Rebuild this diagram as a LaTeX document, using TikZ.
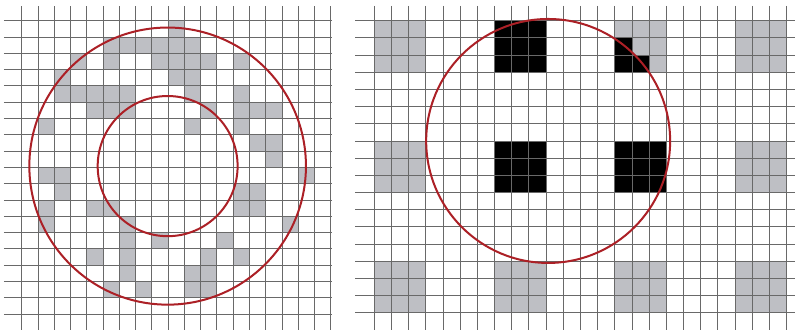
\documentclass[tikz,border=0pt]{standalone}
\usepackage{tikz}
\definecolor{gridline}{RGB}{105,105,105}
\definecolor{cellgray}{RGB}{190,191,196}
\definecolor{ringred}{RGB}{172,32,38}
\tikzset{
    gridlines/.style={draw=gridline, line width=0.9pt},
    graycell/.style={fill=cellgray},
    blackcell/.style={fill=black},
    ring/.style={draw=ringred, line width=2pt}
}

\begin{document}
\begin{tikzpicture}[x=1pt, y=-1pt]
            \useasboundingbox (0,0) rectangle (796,330);
            \fill[white] (0,0) rectangle (796,330);
            \begin{scope}[shift={(21.7,20.7)}, x=16.27pt, y=-16.3pt]
                \foreach \i/\j in {9/0, 5/1, 6/1, 7/1, 8/1, 9/1, 10/1, 3/2, 5/2, 8/2, 9/2, 10/2, 11/2, 13/2,
                    2/3, 9/3, 10/3, 2/4, 3/4, 4/4, 5/4, 6/4, 10/4, 13/4, 4/5, 5/5, 6/5, 11/5, 13/5, 14/5, 15/5,
                    1/6, 10/6, 13/6, 14/7, 15/7, 15/8, 1/9, 2/9, 17/9, 2/10, 13/10, 14/10,
                    1/11, 4/11, 5/11, 13/11, 14/11, 1/12, 6/12, 16/12, 6/13, 8/13, 12/13,
                    4/14, 6/14, 11/14, 13/14, 6/15, 10/15, 11/15, 5/16, 7/16, 10/16, 11/16}
                    \fill[graycell] (\i,\j) rectangle ++(1,1);
                \foreach \i in {0,...,19} \draw[gridlines] (\i,-0.9) -- (\i,19);
                \foreach \j in {0,...,18} \draw[gridlines] (-1.09,\j) -- (19.08,\j);
                \draw[ring] (8.97,8.92) circle [radius=8.5];
                \draw[ring] (8.97,8.92) circle [radius=4.3];
            \end{scope}
            \begin{scope}[shift={(374.3,20.7)}, x=17.18pt, y=-17.18pt]
                \foreach \m in {0,7,14,21} \foreach \k in {0,7,14}
                    \fill[graycell] (\m,\k) rectangle ++(3,3);
                \foreach \m/\k in {7/0, 7/7, 14/7} \fill[blackcell] (\m,\k) rectangle ++(3,3);
                \fill[blackcell] (14,1) rectangle (15,3) (15,2) rectangle (16,3);
                \foreach \m in {0,...,24} \draw[gridlines] (\m,-0.86) -- (\m,18);
                \foreach \k in {0,...,17} \draw[gridlines] (-1.12,\k) -- (24.49,\k);
                \draw[ring] (10.12,7) circle [radius=7.1];
            \end{scope}
        \end{tikzpicture}
\end{document}
